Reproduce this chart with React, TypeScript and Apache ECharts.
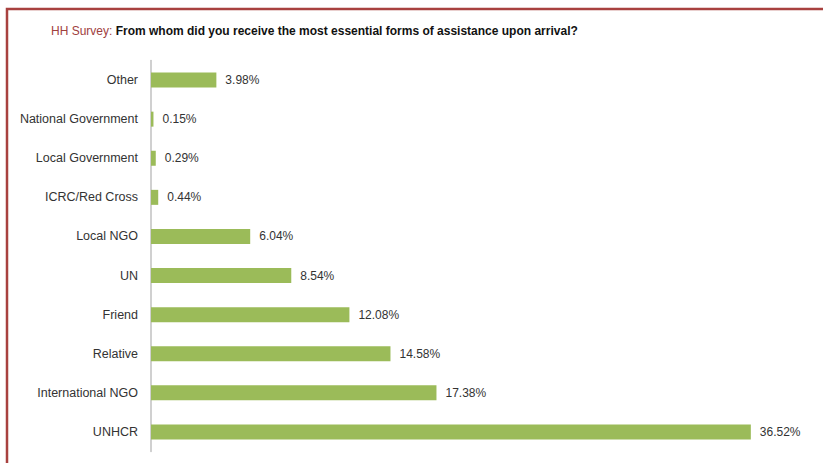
import React, { useEffect, useRef } from "react";
import * as echarts from "echarts";

const categories = [
  "Other",
  "National Government",
  "Local Government",
  "ICRC/Red Cross",
  "Local NGO",
  "UN",
  "Friend",
  "Relative",
  "International NGO",
  "UNHCR",
];
const values = [3.98, 0.15, 0.29, 0.44, 6.04, 8.54, 12.08, 14.58, 17.38, 36.52];

const FONT = "'Liberation Sans', Arial, sans-serif";

export default function App() {
  const ref = useRef<HTMLDivElement>(null);
  useEffect(() => {
    if (!ref.current) return;
    const chart = echarts.init(ref.current, null, { renderer: "svg" });
    chart.setOption({
      animation: false,
      backgroundColor: "#ffffff",
      graphic: [
        {
          type: "polyline",
          shape: { points: [[7, 463], [7, 9], [830, 9]] },
          style: { stroke: "#a8413f", lineWidth: 2.5, fill: "none" },
        },
      ],
      title: {
        text: "{a|HH Survey: }{b|From whom did you receive the most essential forms of assistance upon arrival?}",
        left: 46,
        top: 20,
        textStyle: {
          rich: {
            a: { color: "#a0403e", fontSize: 12, fontWeight: "normal", fontFamily: FONT },
            b: { color: "#111111", fontSize: 12, fontWeight: "bold", fontFamily: FONT },
          },
        },
      },
      grid: { left: 151, top: 60.5, width: 657, height: 391, containLabel: false },
      xAxis: {
        type: "value",
        min: 0,
        max: 40,
        show: false,
      },
      yAxis: {
        type: "category",
        data: categories,
        inverse: true,
        axisTick: { show: false },
        axisLine: { lineStyle: { color: "#c0c0c0", width: 1.5 } },
        axisLabel: { color: "#333333", fontSize: 12.5, fontFamily: FONT, margin: 13 },
      },
      series: [
        {
          type: "bar",
          data: values,
          barWidth: 15,
          itemStyle: { color: "#9bbb59" },
          label: {
            show: true,
            position: "right",
            distance: 9,
            color: "#333333",
            fontSize: 12,
            fontFamily: FONT,
            formatter: (p: any) => p.value.toFixed(2) + "%",
          },
        },
      ],
    });
    return () => chart.dispose();
  }, []);
  return <div ref={ref} style={{ width: 823, height: 463, position: "absolute", left: 0, top: 0 }} />;
}
